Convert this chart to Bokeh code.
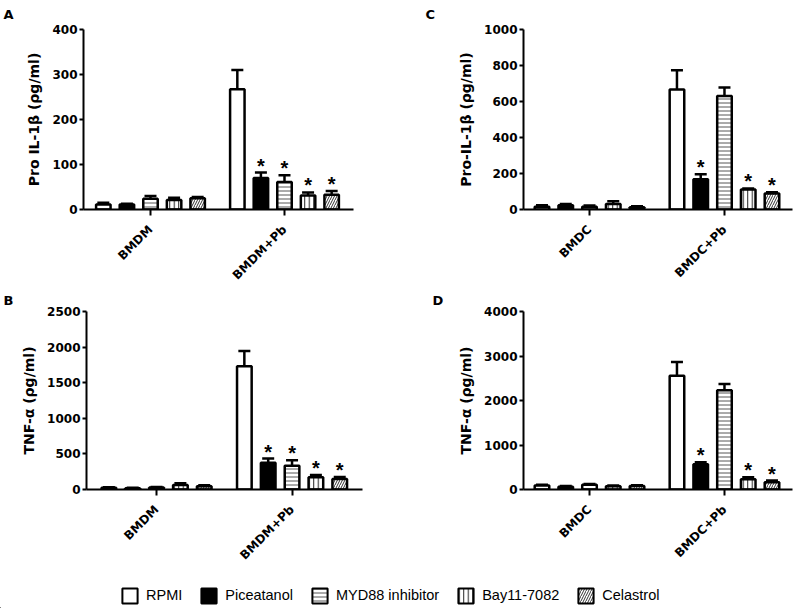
import math
import numpy as np
from bokeh.plotting import figure
from bokeh.models import (ColumnDataSource, Range1d, FixedTicker, Whisker, TeeHead,
                          Legend, LegendItem)
from bokeh.layouts import column, row
from bokeh.embed import file_html
from bokeh.resources import INLINE
from bokeh.core.properties import value

# ---------------- data ----------------
treatments = ["RPMI", "Piceatanol", "MYD88 inhibitor", "Bay11-7082", "Celastrol"]
groups_mac = ["BMDM", "BMDM+Pb"]
groups_dc = ["BMDC", "BMDC+Pb"]

# Panel A: Pro IL-1beta, macrophages (per treatment: [BMDM, BMDM+Pb])
a_means = [[11, 267], [11, 70], [24, 61], [21, 31], [25, 33]]
a_sems = [[4, 43], [2, 12], [6, 15], [5, 7], [3, 8]]
a_sig = [[0, 0], [0, 1], [0, 1], [0, 1], [0, 1]]

# Panel B: TNF-alpha, macrophages
b_means = [[23, 1731], [18, 375], [28, 333], [62, 171], [45, 148]]
b_sems = [[9, 213], [6, 60], [6, 79], [25, 33], [15, 28]]
b_sig = [[0, 0], [0, 1], [0, 1], [0, 1], [0, 1]]

# Panel C: Pro-IL-1beta, dendritic cells
c_means = [[15, 667], [24, 168], [15, 631], [30, 111], [13, 89]]
c_sems = [[9, 107], [6, 28], [7, 47], [16, 6], [5, 7]]
c_sig = [[0, 0], [0, 1], [0, 0], [0, 1], [0, 1]]

# Panel D: TNF-alpha, dendritic cells
d_means = [[89, 2556], [59, 570], [104, 2230], [74, 230], [81, 163]]
d_sems = [[15, 311], [22, 45], [22, 140], [15, 44], [15, 37]]
d_sig = [[0, 0], [0, 1], [0, 0], [0, 1], [0, 1]]

a_ticks = [0, 100, 200, 300, 400]
b_ticks = [0, 500, 1000, 1500, 2000, 2500]
c_ticks = [0, 200, 400, 600, 800, 1000]
d_ticks = [0, 1000, 2000, 3000, 4000]

# ---------------- styles ----------------
STYLES = [
    dict(fill_color="white"),
    dict(fill_color="black"),
    dict(fill_color="white", hatch_pattern="horizontal_line", hatch_color="#555555",
         hatch_scale=4, hatch_weight=1),
    dict(fill_color="white", hatch_pattern="vertical_line", hatch_color="#222222",
         hatch_scale=4.5, hatch_weight=1),
    dict(fill_color="white", hatch_pattern="right_diagonal_line", hatch_color="#333333",
         hatch_scale=5, hatch_weight=1),
]
PITCH = 0.176
BAR_W = 0.108


def make_panel(means, sems, sig, groups, ylabel, ticks, geom, letter):
    p = figure(width=geom["w"], height=geom["h"],
               x_range=Range1d(geom["x0"], geom["x1"]),
               y_range=Range1d(0, ticks[-1]),
               output_backend="svg", toolbar_location=None,
               min_border_left=geom["l"], min_border_right=geom["r"],
               min_border_top=geom["t"], min_border_bottom=geom["b"])
    p.outline_line_color = None
    p.grid.visible = False
    p.background_fill_color = "white"
    p.border_fill_color = "white"

    # panel letter as a left-aligned title shifted to the left edge
    p.title.text = letter
    p.title.align = "left"
    p.title.vertical_align = "top"
    p.title.offset = geom["lx"]
    p.title.standoff = geom["ls"]
    p.title.text_font = "DejaVu Sans"
    p.title.text_font_style = "bold"
    p.title.text_font_size = "13px"
    p.title.text_color = "black"

    gidx = np.arange(len(groups))
    sx, sy = [], []
    for i, t in enumerate(treatments):
        m = np.array(means[i], dtype=float)
        e = np.array(sems[i], dtype=float)
        x = gidx + (i - 2) * PITCH
        src = ColumnDataSource(dict(x=x, top=m, upper=m + e, lower=m))
        w = Whisker(source=src, base="x", upper="upper", lower="lower",
                    line_width=2.5, line_color="black",
                    upper_head=TeeHead(size=12, line_width=2.5, line_color="black"),
                    lower_head=None)
        p.add_layout(w)
        p.vbar(x="x", top="top", bottom=0, width=BAR_W, source=src,
               line_color="black", line_width=2.5, **STYLES[i])
        for g in gidx:
            if sig[i][g]:
                sx.append(x[g])
                sy.append(m[g] + e[g])
    if sx:
        p.text(x=sx, y=sy, text=["*"] * len(sx), text_align="center",
               text_baseline="alphabetic", text_font=value("Liberation Sans"),
               text_font_style="bold", text_font_size="20px", y_offset=-7,
               text_color="black")

    for ax in (p.xaxis[0], p.yaxis[0]):
        ax.axis_line_width = 2
        ax.axis_line_color = "black"
        ax.major_tick_line_width = 2
        ax.major_tick_line_color = "black"
        ax.major_tick_in = 0
        ax.minor_tick_out = 0
        ax.minor_tick_in = 0
        ax.major_label_text_font = "DejaVu Sans"
        ax.major_label_text_font_style = "bold"
        ax.major_label_text_font_size = "12px"
        ax.major_label_text_color = "black"

    ya = p.yaxis[0]
    ya.ticker = FixedTicker(ticks=ticks)
    ya.major_tick_out = 4
    ya.major_label_standoff = 2
    ya.axis_label = ylabel
    ya.axis_label_text_font = "DejaVu Sans"
    ya.axis_label_text_font_style = "bold"
    ya.axis_label_text_font_size = "14px"
    ya.axis_label_text_color = "black"
    ya.axis_label_standoff = 7

    xa = p.xaxis[0]
    xa.ticker = FixedTicker(ticks=list(gidx))
    xa.major_label_overrides = {int(g): groups[g] for g in gidx}
    xa.major_label_orientation = math.pi / 4
    xa.major_tick_out = 6
    xa.major_label_standoff = 12
    return p


# frame: A 83..353 x 29..209 ; C 523..792 x 29..209 ; B 86..362 x 310..490 ; D 523..792 x 309..489
pA = make_panel(a_means, a_sems, a_sig, groups_mac, "Pro IL-1\u03b2 (\u03c1g/ml)", a_ticks,
                dict(w=398, h=290, l=83, r=45, t=29, b=81, x0=-0.5, x1=1.515, lx=-80, ls=12),
                "A")
pC = make_panel(c_means, c_sems, c_sig, groups_dc, "Pro-IL-1\u03b2 (\u03c1g/ml)", c_ticks,
                dict(w=400, h=290, l=125, r=6, t=29, b=81, x0=-0.489, x1=1.504, lx=-98, ls=12),
                "C")
pB = make_panel(b_means, b_sems, b_sig, groups_mac, "TNF-\u03b1 (\u03c1g/ml)", b_ticks,
                dict(w=398, h=281, l=86, r=36, t=20, b=81, x0=-0.517, x1=1.52, lx=-83, ls=4),
                "B")
pD = make_panel(d_means, d_sems, d_sig, groups_dc, "TNF-\u03b1 (\u03c1g/ml)", d_ticks,
                dict(w=400, h=281, l=125, r=6, t=19, b=82, x0=-0.489, x1=1.504, lx=-91, ls=3),
                "D")

# ---------------- legend ----------------
pL = figure(width=798, height=37, x_range=Range1d(0, 1), y_range=Range1d(0, 1),
            output_backend="svg", toolbar_location=None,
            x_axis_type=None, y_axis_type=None,
            min_border_left=0, min_border_right=0, min_border_top=0, min_border_bottom=0)
pL.outline_line_color = None
pL.grid.visible = False
items = []
for i, t in enumerate(treatments):
    # hidden proxy renderers (outside the visible range) that only supply legend swatches
    src = ColumnDataSource(dict(x=[-10.0], top=[0.0]))
    r = pL.vbar(x="x", top="top", bottom=0, width=0.1, source=src,
                line_color="black", line_width=2, **STYLES[i])
    items.append(LegendItem(label=t, renderers=[r]))
legend = Legend(items=items, orientation="horizontal", location=(120, 3.5),
                glyph_width=19, glyph_height=19, label_standoff=7, spacing=17,
                padding=0, margin=0, border_line_color=None, background_fill_alpha=0,
                label_text_font="Liberation Sans", label_text_font_size="14.5px",
                label_text_color="black")
pL.add_layout(legend)

layout = column(row(pA, pC), row(pB, pD), pL)
open("out.html", "w").write(file_html(layout, INLINE))
